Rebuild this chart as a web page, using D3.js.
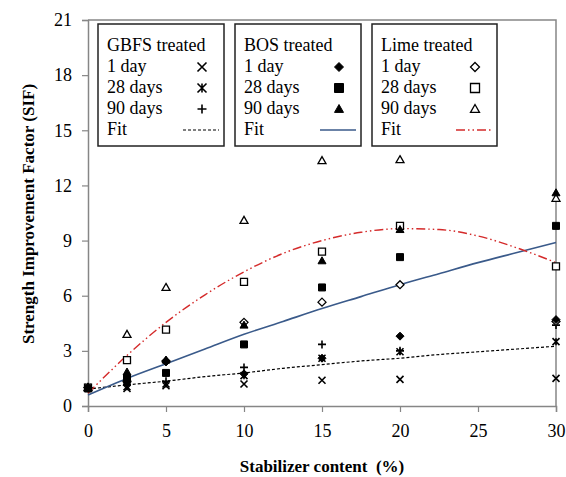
<!DOCTYPE html>
<html>
<head>
<meta charset="utf-8">
<script src="https://cdn.jsdelivr.net/npm/d3@7"></script>
<style>
  html, body { margin: 0; padding: 0; background: #fff; }
  svg text { font-family: "Times New Roman", "Liberation Serif", Times, "DejaVu Serif", serif; }
</style>
</head>
<body>
<svg id="chart" width="566" height="477"></svg>
<script>
// Stabilizer content (%) at which each mix was tested
const contents = [0, 2.5, 5, 10, 15, 20, 30];

// Strength improvement factor, GBFS treated
const gbfs1  = [1.0, 0.95, 1.1, 1.2, 1.4, 1.45, 1.5];
const gbfs28 = [1.0, 1.05, 1.2, 1.65, 2.6, 2.95, 3.5];
const gbfs90 = [1.0, 1.15, 1.35, 2.1, 3.35, 3.0, 4.4];

// BOS treated
const bos1  = [1.0, 1.3, 2.4, 1.75, 2.6, 3.8, 4.7];
const bos28 = [0.95, 1.5, 1.8, 3.35, 6.45, 8.1, 9.8];
const bos90 = [1.0, 1.85, 2.5, 4.4, 7.9, 9.6, 11.6];

// Lime treated
const lime1  = [1.0, 1.35, 2.45, 4.55, 5.65, 6.6, 4.6];
const lime28 = [1.0, 2.5, 4.15, 6.75, 8.4, 9.8, 7.6];
const lime90 = [1.0, 3.9, 6.45, 10.1, 13.35, 13.4, 11.3];

// Fitted trend curves, sampled along the content axis
const fitContents = [0, 2.5, 5, 7.5, 10, 12.5, 15, 17.5, 20, 22.5, 25, 27.5, 30];
const gbfsFit = [0.92, 1.15, 1.35, 1.6, 1.8, 2.05, 2.25, 2.45, 2.6, 2.8, 2.95, 3.1, 3.25];
const bosFit  = [0.6, 1.5, 2.3, 3.1, 3.9, 4.6, 5.3, 5.95, 6.6, 7.2, 7.8, 8.35, 8.9];
const limeFit = [0.7, 2.75, 4.55, 6.05, 7.3, 8.3, 9.0, 9.45, 9.65, 9.6, 9.25, 8.6, 7.8];

// Axis ticks
const xTicks = [0, 5, 10, 15, 20, 25, 30];
const yTicks = [0, 3, 6, 9, 12, 15, 18, 21];

const serif = "'Times New Roman', 'Liberation Serif', Times, serif";
const svg = d3.select("#chart");
const axisGrey = "#868686";
const blue = "#3a5a8a";
const red = "#d42a2a";
const limeDash = "9,3,1.5,3,1.5,3";

const x = d3.scaleLinear().domain([0, 30]).range([88, 556]);
const y = d3.scaleLinear().domain([0, 21]).range([406, 20]);

svg.append("rect").attr("width", 566).attr("height", 477).attr("fill", "#fff");

// Plot frame (top and right edges)
svg.append("path")
  .attr("d", `M${x(0)},${y(21)}H${x(30)}V${y(0)}`)
  .attr("fill", "none").attr("stroke", axisGrey).attr("stroke-width", 1.5);

// Axes
const xAxis = svg.append("g").attr("transform", `translate(0,${y(0)})`)
  .call(d3.axisBottom(x).tickValues(xTicks).tickSize(6).tickPadding(12));
const yAxis = svg.append("g").attr("transform", `translate(${x(0)},0)`)
  .call(d3.axisLeft(y).tickValues(yTicks).tickSize(6).tickPadding(10));
[xAxis, yAxis].forEach(g => {
  g.attr("font-family", serif).attr("font-size", 18);
  g.select(".domain").attr("stroke", axisGrey).attr("stroke-width", 1.5);
  g.selectAll(".tick line").attr("stroke", axisGrey).attr("stroke-width", 1.2);
  g.selectAll(".tick text").attr("fill", "#000");
});

// Axis titles
svg.append("text")
  .attr("x", 322).attr("y", 472)
  .attr("text-anchor", "middle")
  .attr("font-family", serif)
  .attr("font-size", 17).attr("font-weight", "bold")
  .style("white-space", "pre")
  .text("Stabilizer content  (%)");
svg.append("text")
  .attr("transform", "translate(34,214) rotate(-90)")
  .attr("text-anchor", "middle")
  .attr("font-family", serif)
  .attr("font-size", 17).attr("font-weight", "bold")
  .text("Strength Improvement Factor (SIF)");

// Marker path builder
function markerPath(type, s) {
  const p = d3.path();
  const h = s / 2;
  switch (type) {
    case "x":
      p.moveTo(-h, -h); p.lineTo(h, h); p.moveTo(h, -h); p.lineTo(-h, h); break;
    case "star":
      p.moveTo(-h, -h); p.lineTo(h, h); p.moveTo(h, -h); p.lineTo(-h, h);
      p.moveTo(0, -h); p.lineTo(0, h); break;
    case "plus":
      p.moveTo(-h, 0); p.lineTo(h, 0); p.moveTo(0, -h); p.lineTo(0, h); break;
    case "diamond":
      p.moveTo(0, -h); p.lineTo(h, 0); p.lineTo(0, h); p.lineTo(-h, 0); p.closePath(); break;
    case "square":
      p.rect(-h, -h, s, s); break;
    case "triangle":
      p.moveTo(0, -h); p.lineTo(h, h * 0.75); p.lineTo(-h, h * 0.75); p.closePath(); break;
  }
  return p.toString();
}

function styleMarker(sel, m) {
  if (m.kind === "line") {
    sel.attr("fill", "none").attr("stroke", "#000").attr("stroke-width", 1.6);
  } else if (m.kind === "filled") {
    sel.attr("fill", "#000").attr("stroke", "#000").attr("stroke-width", 1);
  } else {
    sel.attr("fill", "#fff").attr("stroke", "#000").attr("stroke-width", 1.3);
  }
}

// Fit curves
const fits = [
  { values: gbfsFit, stroke: "#000", width: 1.2, dash: "3,2" },
  { values: bosFit, stroke: blue, width: 1.6, dash: null },
  { values: limeFit, stroke: red, width: 1.4, dash: limeDash }
];
const line = d3.line().x(d => x(d[0])).y(d => y(d[1])).curve(d3.curveMonotoneX);
fits.forEach(f => {
  svg.append("path")
    .attr("d", line(fitContents.map((c, i) => [c, f.values[i]])))
    .attr("fill", "none").attr("stroke", f.stroke)
    .attr("stroke-width", f.width)
    .attr("stroke-dasharray", f.dash);
});

// Measured series, drawn in layer order
const series = [
  { values: gbfs1, type: "x", kind: "line", size: 7 },
  { values: gbfs28, type: "star", kind: "line", size: 7 },
  { values: gbfs90, type: "plus", kind: "line", size: 8 },
  { values: lime1, type: "diamond", kind: "open", size: 8 },
  { values: lime28, type: "square", kind: "open", size: 7 },
  { values: lime90, type: "triangle", kind: "open", size: 8 },
  { values: bos1, type: "diamond", kind: "filled", size: 8 },
  { values: bos28, type: "square", kind: "filled", size: 7 },
  { values: bos90, type: "triangle", kind: "filled", size: 8 }
];
series.forEach(m => {
  svg.append("g").selectAll("path")
    .data(contents.map((c, i) => [c, m.values[i]]))
    .join("path")
    .attr("transform", d => `translate(${x(d[0])},${y(d[1])})`)
    .attr("d", markerPath(m.type, m.size))
    .call(styleMarker, m);
});

// Legend boxes
const legends = [
  { title: "GBFS treated", left: 98, width: 126, markers: ["x", "star", "plus"], kind: ["line", "line", "line"], fit: 0 },
  { title: "BOS treated", left: 235, width: 126, markers: ["diamond", "square", "triangle"], kind: ["filled", "filled", "filled"], fit: 1 },
  { title: "Lime treated", left: 372, width: 125, markers: ["diamond", "square", "triangle"], kind: ["open", "open", "open"], fit: 2 }
];
const rowLabels = ["1 day", "28 days", "90 days"];
legends.forEach(L => {
  const g = svg.append("g").attr("transform", `translate(${L.left},24)`);
  g.append("rect").attr("width", L.width).attr("height", 122)
    .attr("fill", "#fff").attr("stroke", "#222").attr("stroke-width", 1.5);
  const text = [L.title, ...rowLabels, "Fit"];
  text.forEach((t, i) => {
    g.append("text").attr("x", 9).attr("y", 27 + i * 21)
      .attr("font-family", serif).attr("font-size", 18).text(t);
  });
  L.markers.forEach((type, i) => {
    g.append("path")
      .attr("transform", `translate(${L.width - 22},${43 + i * 21})`)
      .attr("d", markerPath(type, 9))
      .call(styleMarker, { kind: L.kind[i] });
  });
  const f = fits[L.fit];
  g.append("line")
    .attr("x1", L.width - 41).attr("x2", L.width - 5)
    .attr("y1", 106).attr("y2", 106)
    .attr("stroke", f.stroke).attr("stroke-width", f.width)
    .attr("stroke-dasharray", f.dash);
});
</script>
</body>
</html>
